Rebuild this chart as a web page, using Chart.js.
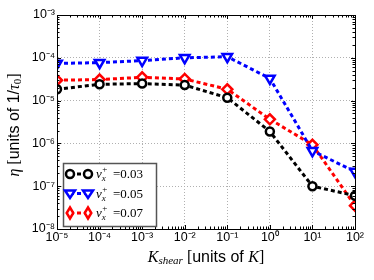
<!DOCTYPE html>
<html><head><meta charset="utf-8">
<script src="https://cdn.jsdelivr.net/npm/chart.js@4"></script>
<style>html,body{margin:0;padding:0;background:#fff}#wrap{width:374px;height:280px}</style>
</head><body><div id="wrap"><canvas id="c" width="374" height="280"></canvas></div>
<script>
const kShear = [1e-5, 1e-4, 1e-3, 1e-2, 1e-1, 1e0, 1e1, 1e2];
const eta003 = [1.84e-5, 2.4e-5, 2.5e-5, 2.3e-5, 1.17e-5, 1.9e-6, 1.0e-7, 6.0e-8];
const eta005 = [7.4e-5, 7.7e-5, 8.6e-5, 1.0e-4, 1.06e-4, 3.3e-5, 6.7e-7, 2.2e-7];
const eta007 = [3.0e-5, 3.1e-5, 3.5e-5, 3.2e-5, 1.84e-5, 3.66e-6, 9.3e-7, 3.5e-8];
const seriesLabels = ['0.03', '0.05', '0.07'];
const xTickExps = [-5, -4, -3, -2, -1, 0, 1, 2];
const yTickExps = [-8, -7, -6, -5, -4, -3];

const SUP = {'-':'\u207B','0':'\u2070','1':'\u00B9','2':'\u00B2','3':'\u00B3','4':'\u2074','5':'\u2075','6':'\u2076','7':'\u2077','8':'\u2078','9':'\u2079'};
function powLabel(v){
  const e = Math.round(Math.log10(v));
  return '10' + String(e).split('').map(c => SUP[c]).join('');
}
const SANS = '"Liberation Sans", Arial, sans-serif';
const SERIF = '"Liberation Serif", "Times New Roman", serif';

function drawMarker(ctx, style, x, y, color){
  ctx.save();
  ctx.strokeStyle = color; ctx.fillStyle = '#fff'; ctx.lineWidth = 2.5; ctx.setLineDash([]);
  ctx.beginPath();
  if (style === 'circle') { ctx.arc(x, y, 4, 0, Math.PI*2); }
  else if (style === 'tri') { const r = 5; ctx.moveTo(x - r, y - r*0.6); ctx.lineTo(x + r, y - r*0.6); ctx.lineTo(x, y + r*0.9); ctx.closePath(); }
  else { const r = 5.5; ctx.moveTo(x, y - r); ctx.lineTo(x + r*0.6, y); ctx.lineTo(x, y + r); ctx.lineTo(x - r*0.6, y); ctx.closePath(); }
  ctx.fill(); ctx.stroke();
  ctx.restore();
}

const framePlugin = {
  id: 'frame',
  afterDraw(chart){
    const {ctx, chartArea: a, scales} = chart;
    const xs = scales.x, ys = scales.y;
    ctx.save();
    ctx.strokeStyle = '#000'; ctx.lineWidth = 1; ctx.setLineDash([]);
    ctx.beginPath();
    for (let e = -5; e < 2; e++) for (let k = 1; k <= 9; k++) {
      const px = Math.round(xs.getPixelForValue(k * Math.pow(10, e))) + 0.5;
      const L = k === 1 ? 4 : 2.5;
      ctx.moveTo(px, a.bottom); ctx.lineTo(px, a.bottom - L);
      ctx.moveTo(px, a.top); ctx.lineTo(px, a.top + L);
    }
    for (let e = -8; e < -3; e++) for (let k = 1; k <= 9; k++) {
      const py = Math.round(ys.getPixelForValue(k * Math.pow(10, e))) + 0.5;
      const L = k === 1 ? 4 : 2.5;
      ctx.moveTo(a.left, py); ctx.lineTo(a.left + L, py);
      ctx.moveTo(a.right, py); ctx.lineTo(a.right - L, py);
    }
    ctx.stroke();
    ctx.strokeRect(Math.round(a.left) + 0.5, Math.round(a.top) + 0.5, Math.round(a.right - a.left), Math.round(a.bottom - a.top));

    // legend box
    const bx = 63, by = 163, bw = 93, bh = 63;
    ctx.fillStyle = '#fff'; ctx.fillRect(bx, by, bw, bh);
    ctx.strokeStyle = '#555'; ctx.lineWidth = 1.5; ctx.strokeRect(bx + 0.5, by + 0.5, bw, bh);
    const styles = ['circle', 'tri', 'diamond'];
    chart.data.datasets.forEach((ds, i) => {
      const y = by + 11 + i * 19.5;
      ctx.save();
      ctx.strokeStyle = ds.borderColor; ctx.lineWidth = 3; ctx.setLineDash([4, 3]);
      ctx.beginPath(); ctx.moveTo(70, y); ctx.lineTo(88, y); ctx.stroke();
      ctx.restore();
      drawMarker(ctx, styles[i], 70, y, ds.borderColor);
      drawMarker(ctx, styles[i], 88, y, ds.borderColor);
      ctx.fillStyle = '#000'; ctx.textBaseline = 'alphabetic'; ctx.textAlign = 'left';
      let tx = 96;
      ctx.font = 'italic 13px ' + SERIF; ctx.fillText('v', tx, y + 4); tx += ctx.measureText('v').width;
      ctx.font = 'italic 9px ' + SERIF; ctx.fillText('x', tx, y + 7);
      ctx.font = '9px ' + SERIF; ctx.fillText('+', tx + 0.5, y - 2);
      tx += 8;
      ctx.font = '13px ' + SERIF; ctx.fillText(' =' + seriesLabels[i], tx, y + 4);
    });

    // y title (rotated)
    ctx.save();
    ctx.translate(15, (a.top + a.bottom) / 2 + 3);
    ctx.rotate(-Math.PI / 2);
    const parts = [
      ['italic 16px ' + SERIF, '\u03B7 ', 0],
      ['16px ' + SERIF, '[', 0],
      ['16px ' + SANS, 'units of 1/', 0],
      ['italic 16px ' + SERIF, '\u03C4', 0],
      ['11px ' + SERIF, '0', 3],
      ['16px ' + SERIF, ']', 0]
    ];
    let w = 0; parts.forEach(p => { ctx.font = p[0]; w += ctx.measureText(p[1]).width; });
    let px = -w / 2;
    ctx.textBaseline = 'middle'; ctx.textAlign = 'left'; ctx.fillStyle = '#000';
    parts.forEach(p => { ctx.font = p[0]; ctx.fillText(p[1], px, p[2]); px += ctx.measureText(p[1]).width; });
    ctx.restore();

    // x title
    const xparts = [
      ['italic 16px ' + SERIF, 'K', 0],
      ['italic 11px ' + SERIF, 'shear', 3],
      ['16px ' + SERIF, ' [', 0],
      ['16px ' + SANS, 'units of ', 0],
      ['italic 16px ' + SERIF, 'K', 0],
      ['16px ' + SERIF, ']', 0]
    ];
    w = 0; xparts.forEach(p => { ctx.font = p[0]; w += ctx.measureText(p[1]).width; });
    px = (a.left + a.right) / 2 - w / 2;
    ctx.textBaseline = 'middle'; ctx.fillStyle = '#000';
    xparts.forEach(p => { ctx.font = p[0]; ctx.fillText(p[1], px, 258 + p[2]); px += ctx.measureText(p[1]).width; });
    ctx.restore();
  }
};

const common = { borderWidth: 3, borderDash: [4, 3], fill: false, tension: 0, pointBorderWidth: 2.5, pointBackgroundColor: '#fff' };

new Chart(document.getElementById('c'), {
  type: 'line',
  data: {
    datasets: [
      Object.assign({ label: 'v_x^+ = ' + seriesLabels[0], data: kShear.map((x, i) => ({x, y: eta003[i]})), borderColor: '#000000', pointBorderColor: '#000000', pointStyle: 'circle', pointRadius: 4 }, common),
      Object.assign({ label: 'v_x^+ = ' + seriesLabels[1], data: kShear.map((x, i) => ({x, y: eta005[i]})), borderColor: '#0000ff', pointBorderColor: '#0000ff', pointStyle: 'triangle', pointRotation: 180, pointRadius: 5.5 }, common),
      Object.assign({ label: 'v_x^+ = ' + seriesLabels[2], data: kShear.map((x, i) => ({x, y: eta007[i]})), borderColor: '#ff0000', pointBorderColor: '#ff0000', pointStyle: 'rectRot', pointRadius: 5 }, common)
    ]
  },
  options: {
    responsive: false, animation: false, devicePixelRatio: 1,
    layout: { padding: { top: 15, right: 19, left: 0, bottom: 0 } },
    plugins: { legend: { display: false }, tooltip: { enabled: false } },
    scales: {
      x: {
        type: 'logarithmic', min: 1e-5, max: 1e2,
        afterBuildTicks: s => { s.ticks = xTickExps.map(e => ({ value: Math.pow(10, e) })); },
        afterFit: s => { s.height = 51; },
        ticks: { callback: v => powLabel(v), color: '#000', font: { family: SANS, size: 12.5 }, padding: 1, maxRotation: 0, autoSkip: false },
        grid: { color: '#b0b0b0', drawTicks: false, lineWidth: 1 },
        border: { display: true, color: '#000', dash: [1, 2] }
      },
      y: {
        type: 'logarithmic', min: 1e-8, max: 1e-3,
        afterBuildTicks: s => { s.ticks = yTickExps.map(e => ({ value: Math.pow(10, e) })); },
        afterFit: s => { s.width = 57; },
        ticks: { callback: v => powLabel(v), color: '#000', font: { family: SANS, size: 12.5 }, padding: 2, autoSkip: false },
        grid: { color: '#b0b0b0', drawTicks: false, lineWidth: 1 },
        border: { display: true, color: '#000', dash: [1, 2] }
      }
    }
  },
  plugins: [framePlugin]
});
</script>
</body></html>
